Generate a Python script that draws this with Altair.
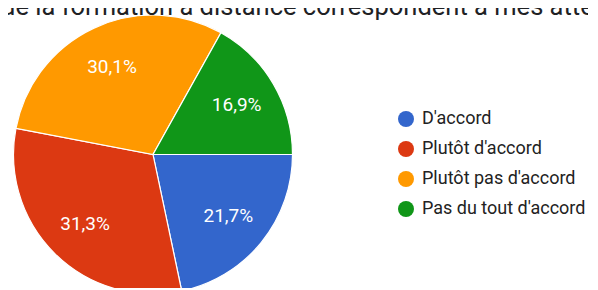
import math
import altair as alt
import pandas as pd

categories = ["D'accord", "Plutôt d'accord", "Plutôt pas d'accord", "Pas du tout d'accord"]
values = [21.7, 31.3, 30.1, 16.9]
labels = ["21,7%", "31,3%", "30,1%", "16,9%"]
colors = ["#3366cc", "#dc3912", "#ff9900", "#109618"]
title_text = "de la formation à distance correspondent à mes attentes"

df = pd.DataFrame({"cat": categories, "val": values, "lab": labels, "idx": list(range(len(categories)))})
title_df = pd.DataFrame({"t": [title_text]})

theta_scale = alt.Scale(range=[math.pi / 2, math.pi / 2 + 2 * math.pi])
cx, cy = 145, 146.5

base = alt.Chart(df).encode(
    theta=alt.Theta("val:Q", stack=True, scale=theta_scale),
    order=alt.Order("idx:Q"),
)

pie = base.mark_arc(outerRadius=139.5, stroke="white", strokeWidth=1.2, x=cx, y=cy).encode(
    color=alt.Color(
        "cat:N",
        sort=categories,
        scale=alt.Scale(domain=categories, range=colors),
        legend=alt.Legend(
            title=None, orient="none", legendX=389, legendY=102,
            symbolType="circle", symbolSize=256, symbolStrokeWidth=0,
            labelFontSize=18, labelFont="Roboto", labelColor="#222222",
            labelLimit=300, rowPadding=12, labelOffset=7, padding=0,
        ),
    )
)

text = base.mark_text(radius=97, x=cx, y=cy, fontSize=19, font="Roboto", color="white").encode(
    text="lab:N"
)

title = alt.Chart(title_df).mark_text(
    align="left", baseline="alphabetic", fontSize=25.5, font="Roboto", color="#202124"
).encode(text="t:N", x=alt.value(-7), y=alt.value(7))

chart = alt.layer(pie, text, title).properties(
    width=580, height=280, autosize=alt.AutoSizeParams(type="none"), padding=0
).configure_view(stroke=None)

chart.save("out.html", embed_options={"renderer": "svg", "actions": False})
